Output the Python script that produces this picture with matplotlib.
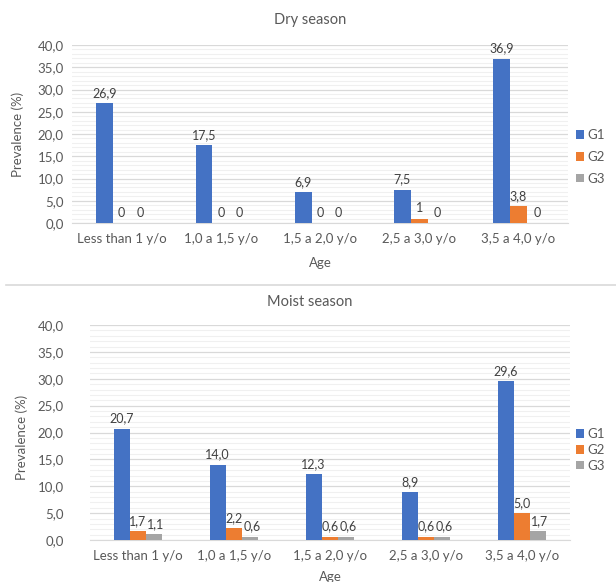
import numpy as np
import matplotlib
matplotlib.use('Agg')
import matplotlib.pyplot as plt
from matplotlib.lines import Line2D
from matplotlib.ticker import MultipleLocator

plt.rcParams['font.family'] = ['Lato', 'DejaVu Sans']

# prevalence (%) per age class, three genotype groups
ages = ['Less than 1 y/o', '1,0 a 1,5 y/o', '1,5 a 2,0 y/o', '2,5 a 3,0 y/o', '3,5 a 4,0 y/o']
groups = ['G1', 'G2', 'G3']

dry_g1 = [26.9, 17.5, 6.9, 7.5, 36.9]
dry_g2 = [0, 0, 0, 1, 3.8]
dry_g3 = [0, 0, 0, 0, 0]

moist_g1 = [20.7, 14.0, 12.3, 8.9, 29.6]
moist_g2 = [1.7, 2.2, 0.6, 0.6, 5.0]
moist_g3 = [1.1, 0.6, 0.6, 0.6, 1.7]

colors = ['#4472C4', '#ED7D31', '#A5A5A5']
txt = '#595959'

W, H = 616, 582
fig = plt.figure(figsize=(W / 100, H / 100), dpi=100)


def fmt_short(v):
    # whole numbers without decimals, the rest with one decimal and comma
    if float(v).is_integer():
        return str(int(v))
    return f'{v:.1f}'.replace('.', ',')


def fmt_long(v):
    return f'{v:.1f}'.replace('.', ',')


def panel(box, series, labfmt, title, title_y, ylab_xy, age_y, ytick_pad, leg_y, leg_space):
    l, t, r, b = box
    ax = fig.add_axes([l / W, 1 - b / H, (r - l) / W, (b - t) / H])
    x = np.arange(len(ages))
    bw = 0.17
    for i, vals in enumerate(series):
        bars = ax.bar(x + (i - 1) * bw, vals, bw, color=colors[i], label=groups[i], zorder=3)
        for rect, v in zip(bars, vals):
            ax.annotate(labfmt(v), (rect.get_x() + rect.get_width() / 2, rect.get_height()),
                        xytext=((i - 1) * 1.2 if i else 0, 3), textcoords='offset points',
                        ha='center', va='bottom', fontsize=9, color='#404040')
    ax.set_xlim(-0.5, len(ages) - 0.5)
    ax.set_ylim(0, 40)
    ax.yaxis.set_major_locator(MultipleLocator(5))
    ax.yaxis.set_minor_locator(MultipleLocator(1))
    ax.set_yticklabels([f'{v:.1f}'.replace('.', ',') for v in ax.get_yticks()])
    ax.set_xticks(x)
    ax.set_xticklabels(ages)
    ax.grid(axis='y', which='major', color='#d9d9d9', lw=0.9, zorder=0)
    ax.grid(axis='y', which='minor', color='#f0f0f0', lw=0.8, zorder=0)
    for s in ['top', 'right', 'left']:
        ax.spines[s].set_visible(False)
    ax.spines['bottom'].set_color('#d9d9d9')
    ax.tick_params(axis='both', which='both', length=0, colors=txt, labelsize=9.5)
    ax.tick_params(axis='y', pad=ytick_pad)
    ax.tick_params(axis='x', pad=7)

    fig.text(310 / W, 1 - title_y / H, title, ha='center', va='center', fontsize=10.5, color=txt)
    fig.text(ylab_xy[0] / W, 1 - ylab_xy[1] / H, 'Prevalence (%)', rotation=90,
             ha='center', va='center', fontsize=9.5, color=txt)
    fig.text((l + r) / 2 / W, 1 - age_y / H, 'Age', ha='center', va='center', fontsize=9.5, color=txt)

    leg = ax.legend(loc='center left', bbox_to_anchor=(576 / W, 1 - leg_y / H),
                    bbox_transform=fig.transFigure, frameon=False, fontsize=9.5,
                    handlelength=0.6, handleheight=0.6, handletextpad=0.3,
                    labelspacing=leg_space, borderaxespad=0, borderpad=0)
    for t_ in leg.get_texts():
        t_.set_color(txt)
    return ax


panel((72, 45, 568, 223), [dry_g1, dry_g2, dry_g3], fmt_short, 'Dry season', 20,
      (18, 134), 263, 6, 157, 0.75)
panel((90, 325, 570, 540), [moist_g1, moist_g2, moist_g3], fmt_long, 'Moist season', 302,
      (22, 437), 577, 19, 450, 0.3)

# thin rule between the two charts
fig.add_artist(Line2D([6 / W, 1], [1 - 285 / H] * 2, color='#d9d9d9', lw=1.2,
                      transform=fig.transFigure))

fig.savefig('out.png', dpi=100)
